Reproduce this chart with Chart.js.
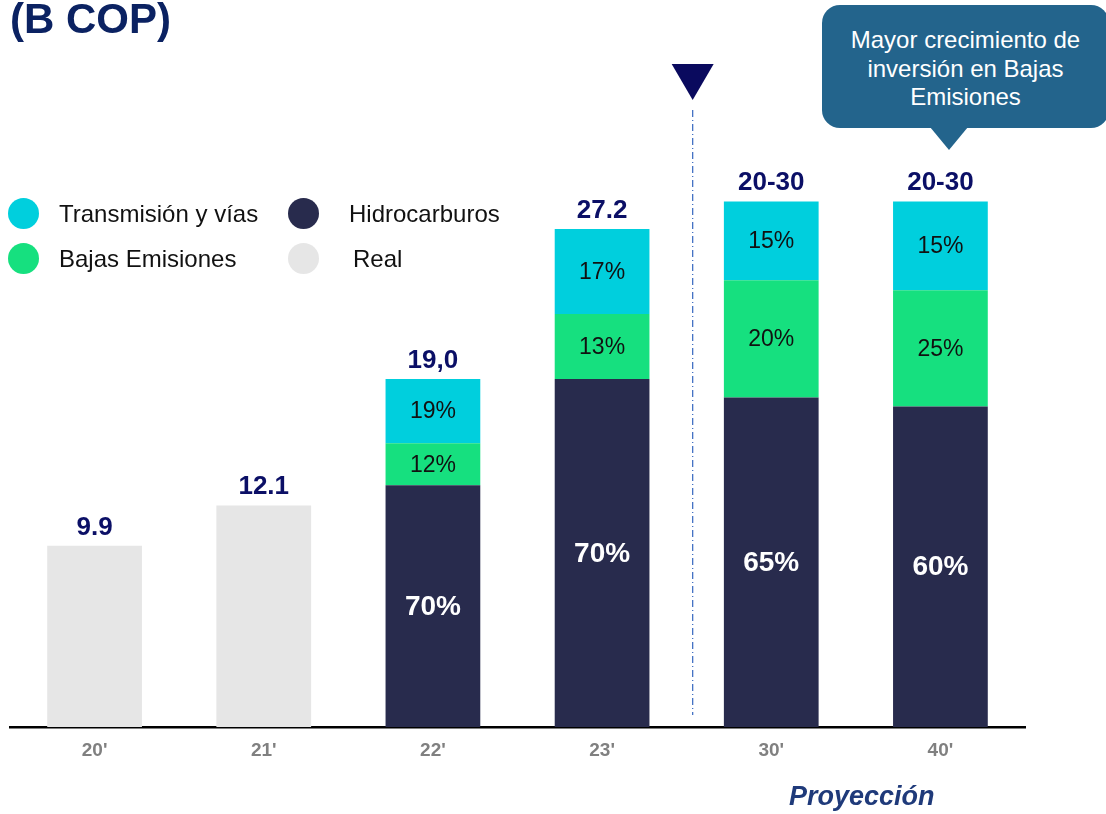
<!DOCTYPE html>
<html>
<head>
<meta charset="utf-8">
<script src="https://cdn.jsdelivr.net/npm/chart.js@4"></script>
<style>
  body { margin: 0; background: #fff; font-family: "Liberation Sans", Arial, sans-serif; }
  #wrap { position: relative; width: 1106px; height: 814px; overflow: hidden; }
  #title { position: absolute; left: 10px; top: -5px; font-size: 42px; font-weight: bold; color: #0b2262; }
  .leg { position: absolute; font-size: 24px; color: #111; display: flex; align-items: center; height: 31px; }
  .dot { width: 31px; height: 31px; border-radius: 50%; margin-right: 20px; flex: none; }
  #callout { position: absolute; left: 822px; top: 5px; width: 287px; height: 123px; border-radius: 18px;
             background: #23648c; color: #fff; font-size: 24px; line-height: 28.5px; text-align: center;
             box-sizing: border-box; padding-top: 21px; white-space: nowrap; }
  #pointer { position: absolute; left: 930px; top: 127px; width: 0; height: 0;
             border-left: 19px solid transparent; border-right: 19px solid transparent; border-top: 23px solid #23648c; }
  #proy { position: absolute; left: 789px; top: 781px; font-size: 27px; font-weight: bold; font-style: italic; color: #1f3a7a; }
</style>
</head>
<body>
<div id="wrap">
  <canvas id="chart" width="1106" height="814"></canvas>
  <div id="title">(B COP)</div>
  <div id="legend"></div>
  <div id="callout">Mayor crecimiento de<br>inversión en Bajas<br>Emisiones</div>
  <div id="pointer"></div>
  <div id="proy">Proyección</div>
</div>
<script>
var categories = ["20'", "21'", "22'", "23'", "30'", "40'"];
var real = [9.9, 12.1, null, null, null, null];
var hidrocarburos = [null, null, 13.2, 19.0, 18.0, 17.5];
var bajasEmisiones = [null, null, 2.3, 3.55, 6.4, 6.35];
var transmision = [null, null, 3.5, 4.65, 4.3, 4.85];
var totalLabels = ["9.9", "12.1", "19,0", "27.2", "20-30", "20-30"];
var hidroPct = ["", "", "70%", "70%", "65%", "60%"];
var bajasPct = ["", "", "12%", "13%", "20%", "25%"];
var transPct = ["", "", "19%", "17%", "15%", "15%"];

var colReal = "#e6e6e6", colHidro = "#282b4d", colBajas = "#16e07f", colTrans = "#00cfdd";

// legend in two columns, like the slide
var legendItems = [
  { label: "Transmisión y vías", color: colTrans, x: 8, y: 198 },
  { label: "Bajas Emisiones", color: colBajas, x: 8, y: 243 },
  { label: "Hidrocarburos", color: colHidro, x: 288, y: 198, gap: 30 },
  { label: "Real", color: colReal, x: 288, y: 243, gap: 34 }
];
var legendBox = document.getElementById("legend");
legendItems.forEach(function (it) {
  var d = document.createElement("div");
  d.className = "leg";
  d.style.left = it.x + "px";
  d.style.top = it.y + "px";
  d.innerHTML = '<span class="dot" style="background:' + it.color + (it.gap ? ';margin-right:' + it.gap + 'px' : '') + '"></span>' + it.label;
  legendBox.appendChild(d);
});

var labelsPlugin = {
  id: "barLabels",
  afterDatasetsDraw: function (chart) {
    var ctx = chart.ctx;
    var pctSets = { 1: hidroPct, 2: bajasPct, 3: transPct };
    ctx.save();
    ctx.textAlign = "center";
    ctx.textBaseline = "middle";
    Object.keys(pctSets).forEach(function (di) {
      var meta = chart.getDatasetMeta(di);
      meta.data.forEach(function (bar, i) {
        var txt = pctSets[di][i];
        if (!txt) return;
        var cy = (bar.y + bar.base) / 2;
        if (di == 1) {
          ctx.font = "bold 28px 'Liberation Sans', Arial, sans-serif";
          ctx.fillStyle = "#ffffff";
        } else {
          ctx.font = "23px 'Liberation Sans', Arial, sans-serif";
          ctx.fillStyle = "#111111";
        }
        ctx.fillText(txt, bar.x, cy + 1);
      });
    });
    // totals above each bar
    var yScale = chart.scales.y, xScale = chart.scales.x;
    ctx.font = "bold 26px 'Liberation Sans', Arial, sans-serif";
    ctx.fillStyle = "#0b0f66";
    ctx.textBaseline = "alphabetic";
    categories.forEach(function (c, i) {
      var tot = (real[i] || 0) + (hidrocarburos[i] || 0) + (bajasEmisiones[i] || 0) + (transmision[i] || 0);
      ctx.fillText(totalLabels[i], xScale.getPixelForValue(i), yScale.getPixelForValue(tot) - 11);
    });
    // projection divider between 23' and 30'
    var xd = (xScale.getPixelForValue(3) + xScale.getPixelForValue(4)) / 2 + 6;
    ctx.strokeStyle = "#4472c4";
    ctx.lineWidth = 1.3;
    ctx.setLineDash([7, 3, 1, 3]);
    ctx.beginPath();
    ctx.moveTo(xd, 110);
    ctx.lineTo(xd, yScale.getPixelForValue(0) - 12);
    ctx.stroke();
    ctx.setLineDash([]);
    ctx.fillStyle = "#0a0a5e";
    ctx.beginPath();
    ctx.moveTo(xd - 21, 64);
    ctx.lineTo(xd + 21, 64);
    ctx.lineTo(xd, 100);
    ctx.closePath();
    ctx.fill();
    ctx.restore();
  }
};

new Chart(document.getElementById("chart"), {
  type: "bar",
  data: {
    labels: categories,
    datasets: [
      { label: "Real", data: real, backgroundColor: colReal },
      { label: "Hidrocarburos", data: hidrocarburos, backgroundColor: colHidro },
      { label: "Bajas Emisiones", data: bajasEmisiones, backgroundColor: colBajas },
      { label: "Transmisión y vías", data: transmision, backgroundColor: colTrans }
    ]
  },
  options: {
    responsive: false,
    animation: false,
    layout: { padding: { left: 10, right: 81, top: 141, bottom: 0 } },
    datasets: { bar: { categoryPercentage: 1, barPercentage: 0.56, skipNull: true } },
    plugins: { legend: { display: false }, tooltip: { enabled: false } },
    scales: {
      x: {
        stacked: true,
        grid: { display: false },
        border: { display: true, color: "#000", width: 2.5 },
        ticks: { color: "#808080", font: { size: 19, weight: "bold", family: "'Liberation Sans', Arial, sans-serif" }, padding: 4 },
        afterFit: function (s) { s.height = 87; }
      },
      y: {
        stacked: true,
        display: false,
        min: 0,
        max: 32
      }
    }
  },
  plugins: [labelsPlugin]
});
</script>
</body>
</html>
